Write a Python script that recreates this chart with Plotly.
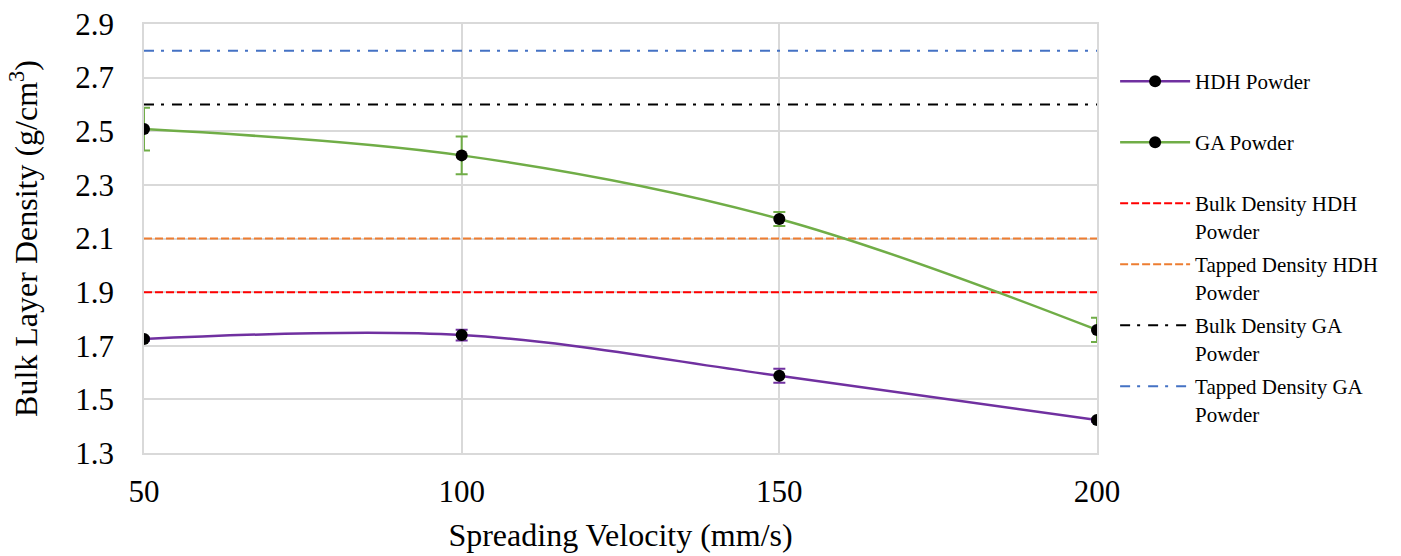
import plotly.graph_objects as go

velocity = [50, 100, 150, 200]
hdh_density = [1.725, 1.740, 1.588, 1.423]
hdh_err = [0.006, 0.02, 0.026, 0.006]
ga_density = [2.508, 2.410, 2.173, 1.759]
ga_err = [0.08, 0.07, 0.026, 0.045]

ref_names = ["Bulk Density HDH<br>Powder", "Tapped Density HDH<br>Powder",
             "Bulk Density GA<br>Powder", "Tapped Density GA<br>Powder"]
ref_values = [1.9, 2.1, 2.6, 2.8]
ref_colors = ["#FF0000", "#ED7D31", "#000000", "#4472C4"]
ref_dash = ["8px,3px", "8px,3px", "10px,7px,3px,8px", "10px,7px,3px,8px"]

y_ticks = [1.3, 1.5, 1.7, 1.9, 2.1, 2.3, 2.5, 2.7, 2.9]
x_ticks = [50, 100, 150, 200]

FONT = "Liberation Serif, Times New Roman, serif"

# legend layout (pixels of the 1401x556 page)
PLOT_TOP, PLOT_BOTTOM = 24, 453
LEG_FIRST, LEG_STEP, LEG_OFFSET = 82, 61, 21


def legend_y(i):
    p = LEG_FIRST + LEG_STEP * i - LEG_OFFSET
    return (PLOT_BOTTOM - p) / (PLOT_BOTTOM - PLOT_TOP)


fig = go.Figure()

for i, (nm, v, c, d) in enumerate(zip(ref_names, ref_values, ref_colors, ref_dash)):
    fig.add_trace(go.Scatter(
        x=[velocity[0], velocity[-1]], y=[v, v], mode="lines", name=nm,
        line=dict(color=c, width=2, dash=d), legend=f"legend{3+i}",
        hoverinfo="skip"))

fig.add_trace(go.Scatter(
    x=velocity, y=hdh_density, mode="lines+markers", name="HDH Powder",
    line=dict(color="#7030A0", width=2.5, shape="spline", smoothing=1),
    marker=dict(color="black", size=12),
    error_y=dict(type="data", array=hdh_err, color="#7030A0", thickness=2, width=6),
    legend="legend"))

fig.add_trace(go.Scatter(
    x=velocity, y=ga_density, mode="lines+markers", name="GA Powder",
    line=dict(color="#70AD47", width=2.5, shape="spline", smoothing=1),
    marker=dict(color="black", size=12),
    error_y=dict(type="data", array=ga_err, color="#70AD47", thickness=2, width=6),
    legend="legend2"))

leg_common = dict(x=1.019, xanchor="left", yanchor="top",
                  font=dict(family=FONT, size=21, color="black"),
                  valign="top", itemwidth=70, bgcolor="rgba(0,0,0,0)")
legends = {}
for i in range(6):
    key = "legend" if i == 0 else f"legend{i+1}"
    legends[key] = dict(y=legend_y(i), **leg_common)

fig.update_layout(
    width=1401, height=556,
    margin=dict(l=144, r=304, t=24, b=103),
    paper_bgcolor="white", plot_bgcolor="white",
    font=dict(family=FONT, color="black"),
    showlegend=True,
    **legends,
)

fig.update_xaxes(
    range=[50, 200], tickvals=x_ticks, ticktext=[str(t) for t in x_ticks],
    showgrid=True, gridcolor="#D9D9D9", gridwidth=1.5, automargin=False,
    zeroline=False, showline=True, linecolor="#D9D9D9", linewidth=1.5, mirror=True,
    tickfont=dict(family=FONT, size=31), ticks="", ticklabelstandoff=10,
    title=dict(text="Spreading Velocity (mm/s)", font=dict(family=FONT, size=32), standoff=16),
)
fig.update_yaxes(
    range=[1.3, 2.9], tickvals=y_ticks, ticktext=[f"{t:.1f}" for t in y_ticks],
    showgrid=True, gridcolor="#D9D9D9", gridwidth=1.5, automargin=False,
    zeroline=False, showline=True, linecolor="#D9D9D9", linewidth=1.5, mirror=True,
    tickfont=dict(family=FONT, size=31), ticks="", ticklabelstandoff=22,
    title=dict(text="Bulk Layer Density (g/cm<sup>3</sup>)", font=dict(family=FONT, size=32), standoff=28),
)

fig.write_html("out.html")
